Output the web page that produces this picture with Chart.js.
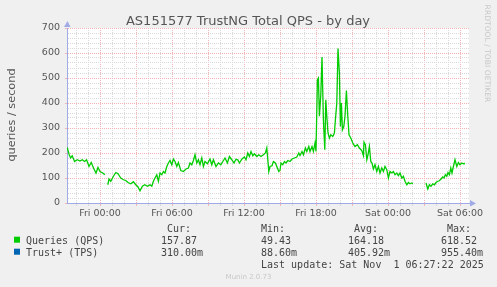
<!DOCTYPE html>
<html>
<head>
<meta charset="utf-8">
<title>AS151577 TrustNG Total QPS - by day</title>
<script src="https://cdn.jsdelivr.net/npm/chart.js@4/dist/chart.umd.min.js"></script>
<style>
  html, body { margin: 0; padding: 0; background: #f0f0f0; }
  canvas { display: block; }
</style>
</head>
<body>
<canvas id="qps" width="497" height="287"></canvas>
<script>
// sample times in minutes relative to Fri 00:00 (null value = no data)
const sampleMinutes = [
  -164, -154, -147, -139, -127, -114, -100, -89, -77, -67, -55, -44, -30, -20, -10, 0, 14, 24, 30,
  39, 45, 54, 67, 79, 90, 104, 117, 129, 140, 154, 167, 179, 190, 200, 212, 224, 237, 250,
  259, 267, 275, 284, 292, 300, 309, 317, 325, 334, 342, 350, 359, 367, 375, 384, 392, 404,
  417, 430, 442, 450, 459, 467, 475, 484, 492, 500, 509, 517, 525, 537, 550, 559, 567, 580,
  592, 604, 614, 625, 637, 647, 659, 670, 680, 689, 697, 710, 722, 730, 739, 747, 755, 764,
  772, 784, 794, 805, 817, 827, 834, 839, 844, 850, 860, 867, 877, 884, 894, 900, 905, 914,
  922, 930, 939, 950, 960, 972, 984, 994, 1000, 1010, 1017, 1027, 1034, 1044, 1050, 1060, 1067,
  1075, 1080, 1087, 1092, 1097, 1104, 1110, 1117, 1124, 1129, 1134, 1140, 1147, 1154, 1164,
  1172, 1177, 1184, 1190, 1197, 1202, 1207, 1212, 1219, 1225, 1232, 1239, 1245, 1254, 1264,
  1275, 1287, 1297, 1309, 1317, 1320, 1327, 1334, 1340, 1347, 1354, 1360, 1367, 1375, 1384,
  1392, 1400, 1409, 1417, 1425, 1434, 1442, 1450, 1459, 1467, 1475, 1484, 1492, 1500, 1509,
  1517, 1525, 1534, 1542, 1550, 1559, 1564, 1590,
  1630, 1639, 1647, 1655, 1664, 1672, 1680, 1689, 1697, 1705, 1714, 1720, 1727, 1734, 1740,
  1747, 1754, 1760, 1767, 1775, 1784, 1792, 1800, 1809, 1817, 1825
];
const queriesQps = [
  222, 193, 180, 189, 166, 173, 168, 173, 166, 173, 146, 162, 136, 120, 142, 126, 120, 113, null,
  73, 96, 87, 107, 122, 117, 100, 93, 90, 82, 77, 85, 73, 64, 49, 67, 73, 67, 73,
  67, 87, 100, 113, 87, 120, 113, 126, 120, 146, 160, 170, 153, 176, 166, 146, 162, 130,
  126, 136, 140, 160, 153, 170, 193, 160, 173, 153, 180, 146, 166, 157, 176, 153, 173, 146,
  160, 153, 166, 180, 160, 186, 173, 160, 175, 173, 160, 176, 184, 173, 200, 186, 206, 189,
  197, 186, 193, 186, 193, 200, 220, 173, 126, 146, 149, 166, 160, 146, 126, 130, 160, 153,
  166, 160, 170, 166, 176, 180, 184, 200, 190, 206, 193, 220, 206, 226, 206, 226, 206,
  240, 206, 493, 500, 347, 433, 584, 333, 213, 413, 347, 280, 260, 273, 266,
  280, 333, 400, 618, 520, 306, 400, 293, 306, 347, 450, 347, 273, 260, 240,
  226, 233, 220, 210, 190, 243, 233, 173, 193, 226, 166, 160, 136, 153, 126,
  146, 120, 140, 126, 146, 133, 100, 126, 120, 126, 113, 120, 109, 120, 100,
  107, 87, 73, 82, 77, 80, 77, null,
  80, 56, 73, 67, 77, 73, 82, 87, 89, 96, 104, 100, 113, 107, 122,
  113, 140, 120, 146, 173, 146, 162, 153, 160, 157, 158
];

const xTickLabels = ['Fri 00:00', 'Fri 06:00', 'Fri 12:00', 'Fri 18:00', 'Sat 00:00', 'Sat 06:00'];
const seriesNames = ['Queries (QPS)', 'Trust+ (TPS)'];
const seriesColors = ['#00cc00', '#0066b3'];
const curValues = ['157.87', '310.00m'];
const minValues = ['49.43', '88.60m'];
const avgValues = ['164.18', '405.92m'];
const maxValues = ['618.52', '955.40m'];
const lastUpdate = 'Last update: Sat Nov  1 06:27:22 2025';

const AXIS = '#a0aae6';
const MAJOR = '#f2b4b4';
const MINOR = '#dadada';

const muninDecor = {
  id: 'muninDecor',
  beforeDraw(chart) {
    const { ctx, chartArea: a } = chart;
    ctx.save();
    ctx.fillStyle = '#ffffff';
    ctx.fillRect(a.left, a.top, a.right - a.left, a.bottom - a.top);
    ctx.restore();
  },
  afterDraw(chart) {
    const { ctx, chartArea: a } = chart;
    ctx.save();

    // axis arrows
    ctx.fillStyle = AXIS;
    ctx.beginPath();
    ctx.moveTo(a.left - 3, a.top - 1);
    ctx.lineTo(a.left + 3.5, a.top - 1);
    ctx.lineTo(a.left + 0.5, a.top - 7);
    ctx.fill();
    ctx.beginPath();
    ctx.moveTo(a.right + 1, a.bottom - 3);
    ctx.lineTo(a.right + 1, a.bottom + 3.5);
    ctx.lineTo(a.right + 7, a.bottom + 0.5);
    ctx.fill();

    // title
    ctx.fillStyle = '#555';
    ctx.font = '13px "DejaVu Sans"';
    ctx.textAlign = 'center';
    ctx.textBaseline = 'alphabetic';
    ctx.fillText('AS151577 TrustNG Total QPS - by day', 248, 24.5);

    // vertical axis title
    ctx.save();
    ctx.translate(15, 115);
    ctx.rotate(-Math.PI / 2);
    ctx.font = '11.3px "DejaVu Sans"';
    ctx.fillStyle = '#555';
    ctx.fillText('queries / second', 0, 0);
    ctx.restore();

    // rrdtool watermark
    ctx.save();
    ctx.translate(485, 53.5);
    ctx.rotate(Math.PI / 2);
    ctx.font = '7.6px "DejaVu Sans"';
    ctx.fillStyle = '#c8c8c8';
    ctx.fillText('RRDTOOL / TOBI OETIKER', 0, 0);
    ctx.restore();

    // legend table
    ctx.textAlign = 'left';
    ctx.font = '10px "DejaVu Sans Mono"';
    ctx.fillStyle = '#444';
    ctx.fillText('Cur:', 167, 231.5);
    ctx.fillText('Min:', 261, 231.5);
    ctx.fillText('Avg:', 354, 231.5);
    ctx.fillText('Max:', 447, 231.5);
    seriesNames.forEach((name, i) => {
      const y = 243.5 + i * 12;
      ctx.fillStyle = seriesColors[i];
      ctx.fillRect(14, y - 6.8, 6, 6);
      ctx.fillStyle = '#444';
      ctx.fillText(name, 26, y);
      ctx.fillText(curValues[i], 161, y);
      ctx.fillText(minValues[i], 261, y);
      ctx.fillText(avgValues[i], 348, y);
      ctx.fillText(maxValues[i], 441, y);
    });
    ctx.fillText(lastUpdate, 261, 267.5);

    ctx.font = '7px "DejaVu Sans"';
    ctx.fillStyle = '#c8c8c8';
    ctx.textAlign = 'center';
    ctx.fillText('Munin 2.0.73', 248.5, 279);
    ctx.restore();
  }
};

new Chart(document.getElementById('qps'), {
  type: 'line',
  data: {
    datasets: [{
      label: seriesNames[0],
      data: sampleMinutes.map((m, i) => ({ x: m, y: queriesQps[i] })),
      borderColor: seriesColors[0],
      borderWidth: 1.3,
      pointRadius: 0,
      tension: 0,
      spanGaps: false,
      fill: false
    }]
  },
  options: {
    responsive: false,
    devicePixelRatio: 1,
    animation: false,
    layout: { padding: { top: 28, right: 28, left: 0, bottom: 0 } },
    plugins: { legend: { display: false }, tooltip: { enabled: false }, title: { display: false } },
    scales: {
      x: {
        type: 'linear',
        min: -165,
        max: 1845,
        afterFit: s => { s.height = 84; },
        ticks: {
          stepSize: 60,
          autoSkip: false,
          includeBounds: false,
          maxTicksLimit: 100,
          maxRotation: 0,
          padding: 2,
          color: '#555',
          font: { family: 'DejaVu Sans', size: 9.5 },
          callback: v => (v % 360 === 0 ? xTickLabels[v / 360] : '')
        },
        grid: {
          color: c => (c.tick && c.tick.value % 180 === 0 ? MAJOR : MINOR),
          tickColor: c => (c.tick && c.tick.value % 180 === 0 ? MAJOR : MINOR),
          tickLength: 3,
          lineWidth: 1
        },
        border: { color: AXIS, width: 1, dash: [1, 1] }
      },
      y: {
        min: 0,
        max: 700,
        afterFit: s => { s.width = 67; },
        ticks: {
          stepSize: 20,
          autoSkip: false,
          maxTicksLimit: 100,
          padding: 5,
          color: '#555',
          font: { family: 'DejaVu Sans', size: 9.5 },
          callback: v => (v % 100 === 0 ? v : '')
        },
        grid: {
          color: c => (c.tick && c.tick.value === 0 ? 'rgba(0,0,0,0)' : (c.tick && c.tick.value % 100 === 0 ? MAJOR : MINOR)),
          tickColor: c => (c.tick && c.tick.value % 100 === 0 ? MAJOR : 'rgba(0,0,0,0)'),
          tickLength: 2,
          lineWidth: 1
        },
        border: { color: AXIS, width: 1, dash: [1, 1] }
      }
    }
  },
  plugins: [muninDecor]
});
</script>
</body>
</html>
